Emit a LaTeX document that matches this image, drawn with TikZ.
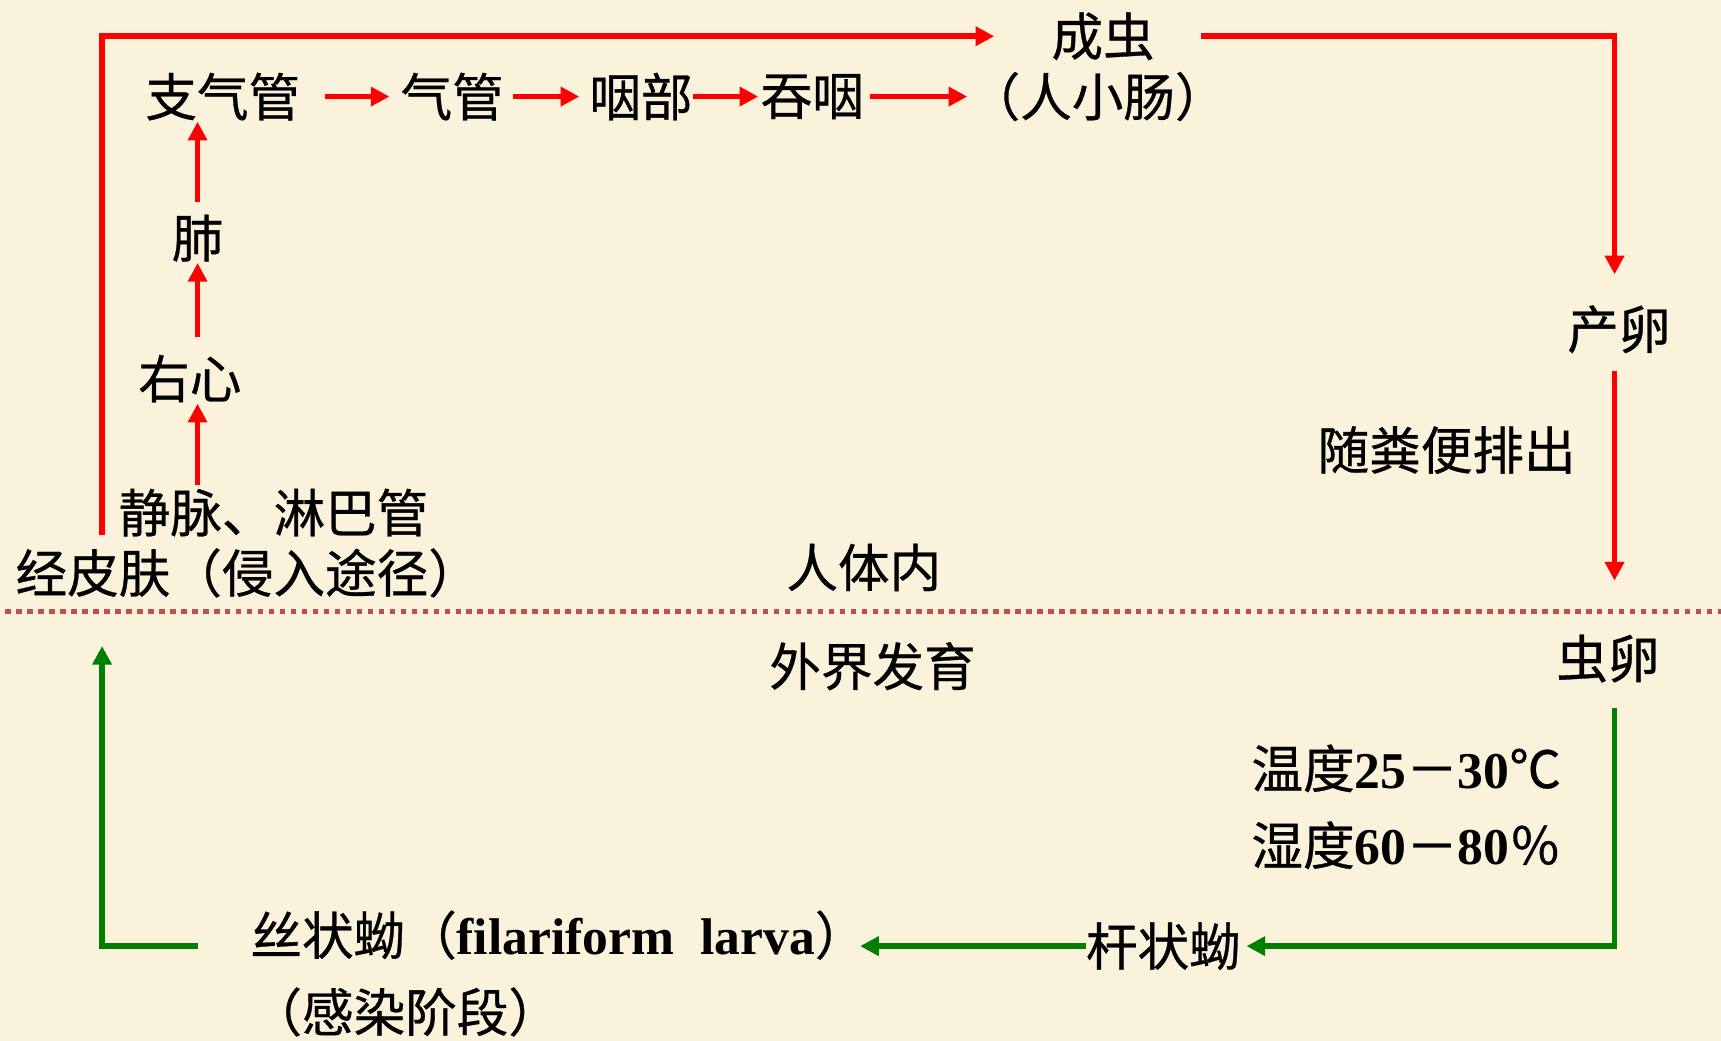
\documentclass[tikz,border=0pt]{standalone}
\usepackage{fontspec}
\setmainfont{Liberation Serif}
\newfontfamily\cjk{Noto Sans CJK SC}[FakeBold=0.6]
\usetikzlibrary{arrows.meta}
\definecolor{bg}{RGB}{251,242,220}
\definecolor{dotred}{RGB}{192,80,77}
\definecolor{arrred}{RGB}{255,0,0}
\definecolor{arrgreen}{RGB}{0,128,0}
\begin{document}
\begin{tikzpicture}[x=1pt,y=-1pt,
  lbl/.style={inner sep=0pt, font=\cjk\fontsize{47}{56}\selectfont},
  redarr/.style={draw=arrred, line width=5pt, -{Triangle[length=17pt,width=17pt]}},
  greenarr/.style={draw=arrgreen, line width=5pt, -{Triangle[length=17pt,width=17pt]}}]
\fill[bg] (0,0) rectangle (1568,948);
\useasboundingbox (0,0) rectangle (1568,948);

\node[lbl] (cc) at (1005,33) {成虫};
\node[lbl] (rxc) at (1000,88) {（人小肠）};
\node[lbl] (zqg) at (203,88) {支气管};
\node[lbl] (qg) at (412,88) {气管};
\node[lbl] (yb) at (584,88) {咽部};
\node[lbl] (ty) at (740,88) {吞咽};
\node[lbl] (fei) at (180,217) {肺};
\node[lbl] (yx) at (173,345) {右心};
\node[lbl,anchor=west] (jm) at (108,467) {静脉、淋巴管};
\node[lbl,anchor=west] (jpf) at (14,522) {经皮肤（侵入途径）};
\node[lbl] (rtn) at (787,517) {人体内};
\node[lbl] (wjfy) at (795,607) {外界发育};
\node[lbl] (cl) at (1475,300) {产卵};
\node[lbl] (sfb) at (1318,410) {随粪便排出};
\node[lbl] (cn) at (1465,600) {虫卵};
\node[lbl,anchor=west] (wd) at (1140,700) {温度{\rmfamily\bfseries 25}－{\rmfamily\bfseries 30}℃};
\node[lbl,anchor=west] (sd) at (1140,770) {湿度{\rmfamily\bfseries 60}－{\rmfamily\bfseries 80}％};
\node[lbl] (gzy) at (1060,862) {杆状蚴};
\node[lbl,anchor=west] (szy) at (228,852) {丝状蚴（{\rmfamily\bfseries filariform\ \ larva}）};
\node[lbl,anchor=west] (grjd) at (228,922) {（感染阶段）};

\coordinate (L) at (93,0);
\coordinate (X) at (180,0);
\coordinate (R) at (1471,0);
\coordinate (B) at (0,862);

\draw[dotred, line width=5pt, dash pattern=on 5pt off 5pt] (5,557) -- (1568,557);

\draw[redarr, shorten <=22pt, shorten >=10pt] (zqg.east) -- (qg.west);
\draw[redarr, shorten <=8pt, shorten >=9pt] (qg.east) -- (yb.west);
\draw[redarr, shorten >=2pt] (yb.east) -- (ty.west);
\draw[redarr, shorten <=5pt, shorten >=1pt] (ty.east) -- (rxc.west);

\draw[redarr, shorten <=3pt, shorten >=1pt] (X |- jm.north) -- (X |- yx.south);
\draw[redarr, shorten <=16pt, shorten >=1pt] (X |- yx.north) -- (X |- fei.south);
\draw[redarr, shorten <=11pt, shorten >=1pt] (fei.north) -- (X |- zqg.south);

\draw[redarr, shorten <=12pt, shorten >=52pt] (L |- jpf.north) |- (cc.west);
\draw[redarr, shorten <=42pt, shorten >=28pt] (cc.east) -| (R |- cl.north);
\draw[redarr, shorten <=16pt, shorten >=49pt] (R |- cl.south) -- (R |- cn.north);

\draw[greenarr, shorten <=23pt, shorten >=5pt] (R |- cn.south) |- (gzy.east);
\draw[greenarr, shorten >=-6pt] (gzy.west) -- (B -| szy.east);
\draw[greenarr, shorten <=48pt, shorten >=44pt] (B -| szy.west) -| (L |- jpf.south);
\end{tikzpicture}
\end{document}
